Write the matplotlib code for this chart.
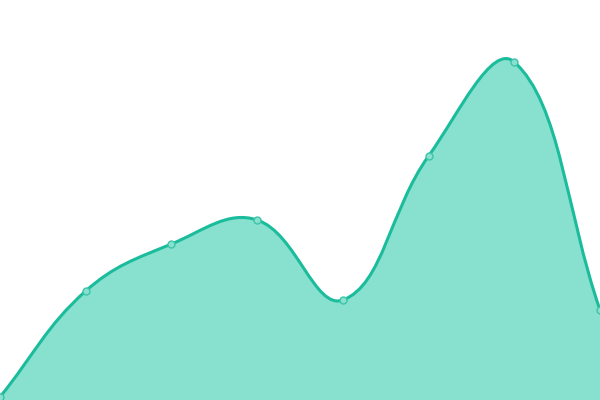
import numpy as np
import matplotlib
matplotlib.use('Agg')
import matplotlib.pyplot as plt
from matplotlib.path import Path
from matplotlib.patches import PathPatch

# Values (y axis 0..400)
labels = ['A', 'B', 'C', 'D', 'E', 'F', 'G', 'H']
values = [3, 109, 156, 180, 100, 244, 338, 90]

line_color = '#1abc9c'
fill_color = '#88e0cf'
tension = 0.4

fig = plt.figure(figsize=(6, 4), dpi=100)
ax = fig.add_axes([0, 0, 1, 1])
ax.set_xlim(0, len(labels) - 1)
ax.set_ylim(0, 400)
ax.axis('off')

x = np.arange(len(labels))
pts = ax.transData.transform(np.column_stack([x, values]))


# spline control points, same rule as a "tension" smoothed line chart
def control_points(p):
    n = len(p)
    prev_c = np.zeros_like(p)
    next_c = np.zeros_like(p)
    for i in range(n):
        a = p[i - 1] if i > 0 else p[i]
        b = p[i]
        c = p[i + 1] if i < n - 1 else p[i]
        d01 = np.hypot(*(b - a))
        d12 = np.hypot(*(c - b))
        tot = d01 + d12
        s01 = d01 / tot if tot else 0
        s12 = d12 / tot if tot else 0
        prev_c[i] = b - tension * s01 * (c - a)
        next_c[i] = b + tension * s12 * (c - a)
    return prev_c, next_c


prev_c, next_c = control_points(pts)
verts = [pts[0]]
codes = [Path.MOVETO]
for i in range(len(pts) - 1):
    verts += [next_c[i], prev_c[i + 1], pts[i + 1]]
    codes += [Path.CURVE4] * 3

inv = ax.transData.inverted()
verts_d = inv.transform(np.array(verts))

line_path = Path(verts_d, codes)
fill_verts = list(verts_d) + [[x[-1], 0], [x[0], 0], verts_d[0]]
fill_codes = codes + [Path.LINETO, Path.LINETO, Path.CLOSEPOLY]
fill_path = Path(fill_verts, fill_codes)

ax.add_patch(PathPatch(fill_path, facecolor=fill_color, edgecolor='none', zorder=1))
ax.add_patch(PathPatch(line_path, facecolor='none', edgecolor=line_color, linewidth=2.2, zorder=2,
                       clip_on=False))
ax.plot(x, values, linestyle='none', marker='o', markersize=5,
        markerfacecolor=fill_color, markeredgecolor='#3cc5a8', markeredgewidth=1.0,
        zorder=3, clip_on=False)

fig.savefig('out.png', dpi=100)
